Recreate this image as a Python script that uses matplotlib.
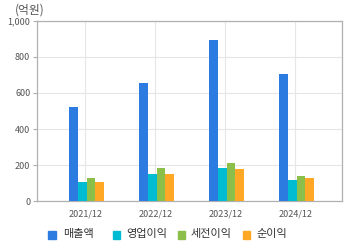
import matplotlib
matplotlib.use("Agg")
import matplotlib.pyplot as plt
import numpy as np
from matplotlib.patches import Rectangle

plt.rcParams['font.family'] = ['Noto Sans CJK KR', 'DejaVu Sans']

categories = ["2021/12", "2022/12", "2023/12", "2024/12"]
series_names = ["매출액", "영업이익", "세전이익", "순이익"]
sales = [521, 654, 891, 703]
op_income = [107, 151, 186, 118]
pretax_income = [129, 186, 212, 140]
net_income = [107, 151, 178, 131]
series_values = [sales, op_income, pretax_income, net_income]
colors = ["#2b7be0", "#00bcd2", "#8cbf4a", "#ffa826"]
yticks = [0, 200, 400, 600, 800, 1000]
ytick_labels = ["0", "200", "400", "600", "800", "1,000"]

W, H = 360, 248
fig = plt.figure(figsize=(W / 100, H / 100), dpi=100)
ax = fig.add_axes([37.3 / W, 1 - 201.3 / H, (342.3 - 37.3) / W, (201.3 - 20.7) / H])

x = np.arange(len(categories))
width = 0.127
shift = 0.017
for i, (vals, c) in enumerate(zip(series_values, colors)):
    ax.bar(x + (i - 1.5) * width + shift, vals, width=width, color=c, zorder=3, linewidth=0)

ax.set_xlim(-0.686, 3.671)
ax.set_ylim(0, 1000)
ax.set_yticks(yticks)
ax.set_yticklabels(ytick_labels)
ax.set_xticks(x)
ax.set_xticklabels(categories)
ax.grid(True, color="#e6e6e6", linewidth=0.8, zorder=0)
for s in ax.spines.values():
    s.set_color("#b0b0b0")
    s.set_linewidth(0.9)
ax.tick_params(axis='y', length=3, width=0.8, color="#b0b0b0", labelsize=6.5, labelcolor="#555555", pad=2)
ax.tick_params(axis='x', length=0, labelsize=6.5, labelcolor="#555555", pad=6)

fig.text(15 / W, 1 - 10 / H, "(억원)", fontsize=8.5, color="#555555", va="center", ha="left")

# legend
leg_sq = [48, 112.7, 177.7, 242.7]
leg_tx = [62.7, 126, 190.5, 256]
for sx, tx, name, c in zip(leg_sq, leg_tx, series_names, colors):
    fig.patches.append(Rectangle((sx / W, 1 - 238.5 / H), 7.5 / W, 7.5 / H,
                                 transform=fig.transFigure, color=c, figure=fig))
    fig.text(tx / W, 1 - 234.5 / H, name, fontsize=8, color="#333333", va="center", ha="left")

fig.savefig("out.png", dpi=100)
